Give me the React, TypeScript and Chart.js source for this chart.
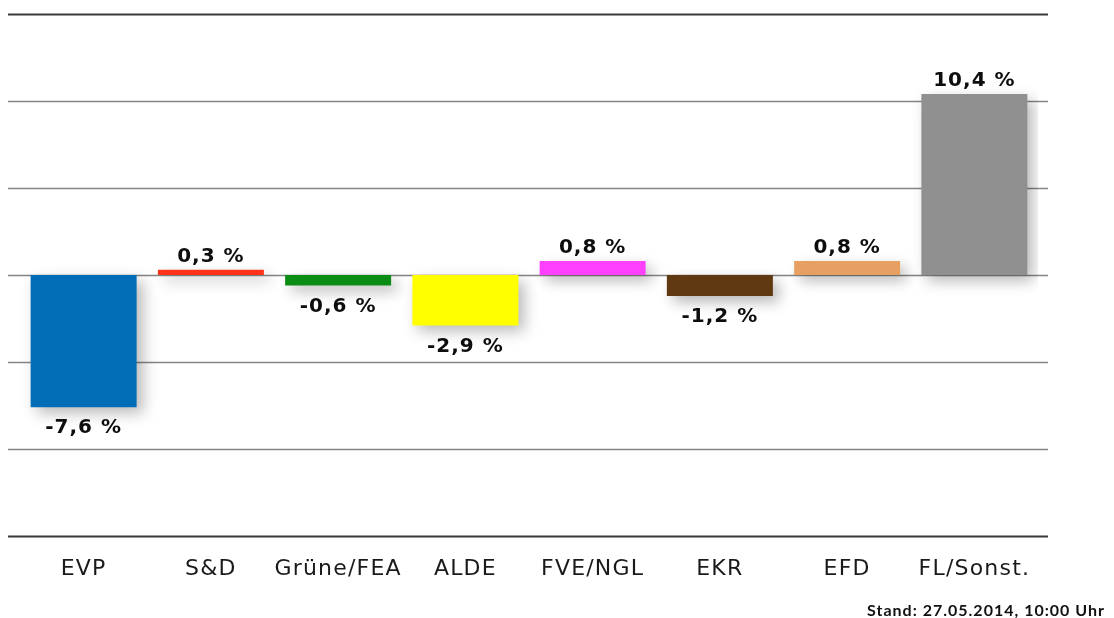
import React, { useEffect, useRef } from "react";
import { Chart, registerables } from "chart.js";

Chart.register(...registerables);

const categories = ["EVP", "S&D", "Grüne/FEA", "ALDE", "FVE/NGL", "EKR", "EFD", "FL/Sonst."];
const changes = [-7.6, 0.3, -0.6, -2.9, 0.8, -1.2, 0.8, 10.4];
const valueLabels = ["-7,6 %", "0,3 %", "-0,6 %", "-2,9 %", "0,8 %", "-1,2 %", "0,8 %", "10,4 %"];
const barColors = ["#006db6", "#ff3319", "#0b8c15", "#ffff00", "#ff40ff", "#603811", "#e8a062", "#909090"];
const gridValues = [-15, -10, -5, 0, 5, 10, 15];
const footnote = "Stand: 27.05.2014, 10:00 Uhr";

const spacingPlugin = {
  id: "labelSpacing",
  beforeDraw(chart: any) {
    chart.ctx.letterSpacing = "1.2px";
  },
  beforeDatasetsDraw(chart: any) {
    chart.ctx.letterSpacing = "0px";
  },
};

const gridPlugin = {
  id: "customGrid",
  beforeDatasetsDraw(chart: any) {
    const { ctx } = chart;
    const y = chart.scales.y;
    ctx.save();
    gridValues.forEach((v, i) => {
      const py = Math.round(y.getPixelForValue(v)) + 0.5;
      const edge = i === 0 || i === gridValues.length - 1;
      ctx.strokeStyle = edge ? "#3a3a3a" : "#858585";
      ctx.lineWidth = edge ? 1.8 : 1.6;
      ctx.beginPath();
      ctx.moveTo(8, py);
      ctx.lineTo(1048, py);
      ctx.stroke();
    });
    ctx.restore();
  },
};

const shadowPlugin = {
  id: "barShadow",
  beforeDatasetDraw(chart: any) {
    const ctx = chart.ctx;
    ctx.save();
    ctx.shadowColor = "rgba(0,0,0,0.28)";
    ctx.shadowBlur = 14;
    ctx.shadowOffsetX = 6;
    ctx.shadowOffsetY = 6;
  },
  afterDatasetDraw(chart: any) {
    chart.ctx.restore();
  },
};

const valuePlugin = {
  id: "valueLabels",
  afterDatasetsDraw(chart: any) {
    const { ctx } = chart;
    const meta = chart.getDatasetMeta(0);
    ctx.save();
    ctx.font = "bold 20px 'DejaVu Sans'";
    ctx.letterSpacing = "1px";
    ctx.fillStyle = "#0d0d0d";
    ctx.textAlign = "center";
    meta.data.forEach((bar: any, i: number) => {
      const v = changes[i];
      if (v >= 0) {
        ctx.textBaseline = "alphabetic";
        ctx.fillText(valueLabels[i], bar.x, bar.y - 8);
      } else {
        ctx.textBaseline = "top";
        ctx.fillText(valueLabels[i], bar.x, bar.y + 11);
      }
    });
    ctx.restore();
  },
};

export default function App() {
  const ref = useRef<HTMLCanvasElement>(null);
  useEffect(() => {
    document.body.style.margin = "0";
    const chart = new Chart(ref.current!, {
      type: "bar",
      data: {
        labels: categories,
        datasets: [
          {
            data: changes,
            backgroundColor: barColors,
            borderWidth: 0,
            barPercentage: 0.833,
            categoryPercentage: 1,
          },
        ],
      },
      options: {
        animation: false,
        responsive: false,
        maintainAspectRatio: false,
        layout: { padding: { left: 20, right: 76, top: 14, bottom: 0 } },
        plugins: { legend: { display: false }, tooltip: { enabled: false } },
        scales: {
          y: { display: false, min: -15, max: 15 },
          x: {
            offset: true,
            grid: { display: false, drawTicks: false },
            border: { display: false },
            ticks: {
              color: "#1a1a1a",
              font: { family: "DejaVu Sans", size: 22 },
              padding: 20,
              maxRotation: 0,
              autoSkip: false,
            },
            afterFit(scale: any) {
              scale.height = 82;
            },
          },
        },
      },
      plugins: [spacingPlugin, gridPlugin, shadowPlugin, valuePlugin],
    });
    return () => chart.destroy();
  }, []);
  return (
    <div style={{ position: "relative", width: 1114, height: 618, overflow: "hidden" }}>
      <canvas ref={ref} width={1114} height={618} style={{ display: "block" }} />
      <div
        style={{
          position: "absolute",
          right: 9,
          top: 602,
          fontFamily: "Lato",
          fontWeight: "bold",
          fontSize: 16,
          lineHeight: "16px",
          letterSpacing: "1px",
          color: "#111",
          whiteSpace: "nowrap",
        }}
      >
        {footnote}
      </div>
    </div>
  );
}
